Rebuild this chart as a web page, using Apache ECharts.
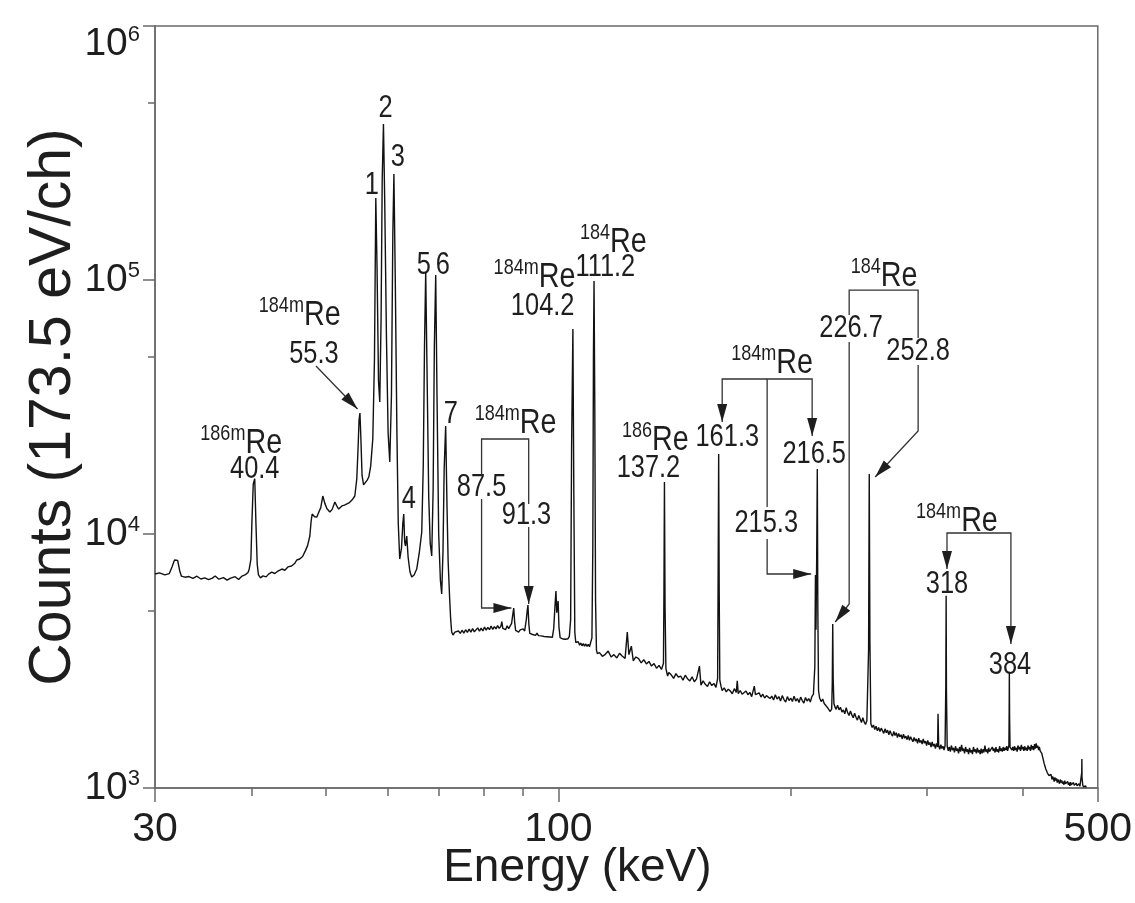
<!DOCTYPE html>
<html>
<head>
<meta charset="utf-8">
<script src="https://cdn.jsdelivr.net/npm/echarts@6/dist/echarts.min.js"></script>
<style>
  html, body { margin: 0; padding: 0; background: #fff; }
  #spectrum { width: 1135px; height: 903px; }
</style>
</head>
<body>
<div id="spectrum"></div>
<script>
// ---- spectrum as [energy keV, counts] ----
// below 73 keV: continuum, 40.4 / 55.3 lines and the x-ray group 1..7
var lowPart = [
  [30.0, 6960], [30.4, 7030], [30.9, 6900], [31.3, 6980], [31.56, 7420], [31.8, 7900], [32.1, 7870],
  [32.3, 7150], [32.45, 6830], [32.8, 6760], [33.2, 6800], [33.6, 6690], [34.0, 6820], [34.4, 6650],
  [34.8, 6720], [35.2, 6610], [35.6, 6700], [35.9, 6830], [36.3, 6640], [36.8, 6730], [37.2, 6580],
  [37.6, 6700], [38.1, 6790], [38.5, 6620], [38.9, 6830], [39.3, 6920], [39.6, 7050], [39.75, 7300],
  [39.94, 7970], [40.06, 11150], [40.22, 15700], [40.4, 16500], [40.54, 11150], [40.7, 7600],
  [40.85, 6900], [41.1, 6720], [41.4, 6840], [41.8, 6780], [42.1, 6950], [42.5, 7080], [42.9, 6990],
  [43.3, 7150], [43.8, 7280], [44.2, 7200], [44.6, 7420], [45.1, 7480], [45.5, 7650], [45.8, 7900],
  [46.2, 7970], [46.6, 8150], [47.0, 8600], [47.3, 9000], [47.62, 9820], [47.8, 11200], [47.95, 11990],
  [48.3, 11700], [48.63, 11670], [48.92, 12210], [49.2, 12700], [49.5, 14110], [49.8, 13200],
  [50.1, 12600], [50.55, 12210], [50.9, 12500], [51.31, 13370], [51.6, 12900], [51.9, 12540],
  [52.4, 12900], [52.8, 13000], [53.18, 13130], [53.6, 13300], [54.0, 13600], [54.46, 14110],
  [54.78, 16460], [55.0, 22000], [55.15, 28000], [55.3, 29950], [55.45, 24000], [55.65, 17000],
  [55.9, 15600], [56.11, 15730], [56.5, 16300], [56.78, 16760], [57.1, 18500], [57.46, 23660],
  [57.75, 48870], [57.98, 210300], [58.2, 110000], [58.45, 40000], [58.67, 33080], [58.9, 70000],
  [59.1, 250000], [59.32, 411400], [59.55, 200000], [59.85, 60000], [60.15, 25000], [60.45, 19210],
  [60.75, 35000], [61.0, 150000], [61.2, 261400], [61.45, 100000], [61.75, 25000], [62.0, 11000],
  [62.27, 7970], [62.6, 8800], [62.85, 11000], [63.02, 11990], [63.2, 9300], [63.35, 8970],
  [63.59, 9820], [63.85, 8100], [64.2, 7100], [64.54, 6770], [65.0, 6900], [65.51, 7280],
  [66.0, 8400], [66.5, 10180], [66.8, 18520], [67.05, 55000], [67.29, 107500], [67.55, 45000],
  [67.9, 14000], [68.2, 9200], [68.51, 8190], [68.8, 15000], [69.05, 55000], [69.33, 104600],
  [69.6, 35000], [69.95, 10000], [70.3, 6600], [70.58, 5805], [70.85, 8500], [71.1, 18000],
  [71.42, 26620], [71.7, 13000], [71.95, 7800], [72.28, 5548], [72.5, 4600], [72.71, 4114]
];

// 73 - 113 keV: flat continuum with 87.5, 91.3, 104.2 and 111.2 lines
var midPart = [
  [73.0, 4000], [73.4, 4110], [73.8, 4040], [74.2, 4150], [74.6, 4060], [75.0, 4180], [75.4, 4070],
  [75.8, 4200], [76.2, 4100], [76.6, 4220], [77.0, 4110], [77.4, 4240], [77.8, 4120], [78.2, 4190],
  [78.6, 4270], [79.0, 4140], [79.4, 4260], [79.8, 4150], [80.2, 4300], [80.6, 4180], [81.0, 4290],
  [81.4, 4200], [81.8, 4340], [82.2, 4210], [82.6, 4320], [83.0, 4230], [83.4, 4360], [83.8, 4250],
  [84.2, 4330], [84.45, 4520], [84.7, 4250], [85.0, 4310], [85.4, 4200], [85.8, 4350], [86.2, 4240],
  [86.6, 4300], [86.95, 4450], [87.2, 4750], [87.5, 5110], [87.75, 4500], [88.0, 4170], [88.4, 4210],
  [88.8, 4110], [89.2, 4190], [89.6, 4120], [90.0, 4230], [90.4, 4150], [90.85, 4600], [91.1, 5000],
  [91.3, 5250], [91.55, 4400], [91.8, 4060], [92.2, 4120], [92.6, 4020], [93.0, 4090], [93.4, 3990],
  [93.8, 4070], [94.2, 3980], [94.6, 4050], [95.0, 3970], [95.4, 4040], [95.8, 3950], [96.2, 4020],
  [96.6, 3940], [97.0, 4000], [97.4, 3930], [97.8, 3990], [98.2, 3920], [98.6, 4250], [99.0, 5300],
  [99.25, 5960], [99.5, 4900], [99.7, 5200], [99.9, 5450], [100.15, 4300], [100.5, 3910],
  [100.9, 3960], [101.3, 3860], [101.7, 3930], [102.1, 3850], [102.5, 3920], [102.9, 3870],
  [103.3, 3950], [103.7, 4600], [104.0, 22000], [104.4, 64150], [104.7, 14000], [105.0, 4100],
  [105.3, 3740], [105.7, 3680], [106.1, 3770], [106.5, 3650], [106.9, 3720], [107.3, 3630],
  [107.7, 3700], [108.1, 3620], [108.5, 3690], [108.9, 3610], [109.3, 3680], [109.7, 3600],
  [110.1, 3660], [110.5, 3900], [110.8, 9000], [111.0, 50000], [111.2, 99100], [111.45, 32000],
  [111.7, 5500], [112.0, 3500], [112.3, 3380], [112.6, 3430]
];

// 113 - 231 keV
var highPart = [
  [113, 3410], [114, 3300], [115, 3360], [116, 3460], [117, 3280], [118, 3350], [119, 3250],
  [120, 3390], [121, 3300], [122, 3240], [122.8, 4110], [123.4, 3350], [124.3, 3620], [125, 3170],
  [126, 3280], [127, 3230], [128, 3110], [129, 3200], [130, 3080], [131, 3150], [132, 3020],
  [133, 3090], [134, 2960], [135, 3040], [136, 2930], [136.8, 3100], [137.0, 6000], [137.2, 16020],
  [137.45, 5200], [137.8, 2950], [138.5, 2760], [139, 2850], [140, 2790], [141, 2700], [142, 2820],
  [143, 2730], [144, 2760], [145, 2660], [146, 2780], [147, 2690], [148, 2640], [149, 2740],
  [150, 2620], [151, 2690], [152.3, 3020], [153, 2540], [154, 2640], [155, 2560], [156, 2510],
  [157, 2620], [158, 2530], [159, 2580], [160, 2490], [160.8, 2700], [161.05, 7000], [161.3, 20650],
  [161.55, 6000], [161.85, 2650], [162.5, 2500], [163, 2420], [164, 2480], [165, 2390], [166, 2450],
  [167, 2410], [168, 2350], [169, 2460], [170, 2380], [170.5, 2640], [171, 2350], [172, 2420],
  [173, 2340], [174, 2300], [175, 2410], [176, 2330], [177, 2380], [178, 2290], [179.4, 2520],
  [180, 2330], [181, 2290], [182, 2370], [183, 2280], [184, 2340], [185, 2260], [186, 2310],
  [187, 2350], [188, 2250], [189, 2300], [190, 2220], [191, 2330], [192, 2240], [193, 2290],
  [194, 2200], [195, 2310], [196, 2230], [197, 2180], [198, 2290], [199, 2210], [200, 2260],
  [201, 2190], [202, 2300], [203, 2200], [204, 2250], [205, 2170], [206, 2280], [207, 2210],
  [208, 2160], [209, 2270], [210, 2200], [211, 2250], [212, 2180], [213, 2290], [214, 2340],
  [214.9, 3000], [215.3, 6900], [215.65, 4200], [216.1, 8000], [216.5, 18030], [216.85, 5000],
  [217.3, 2420], [218, 2260], [219, 2190], [220, 2240], [221, 2150], [222, 2120], [223, 2080],
  [224, 2110], [225, 2000], [226, 2050], [226.4, 2600], [226.7, 4420], [227.0, 2700], [227.5, 2150],
  [228, 2100], [229, 2040], [230, 2120], [231, 2030]
];

// 232 - 484 keV
var tailPart = [
  [232, 2080], [233, 1990], [234, 2030], [235, 1960], [236, 2070], [237, 1980], [238, 1930],
  [239, 2010], [240, 1940], [241, 1890], [242, 1970], [243, 1900], [244, 1850], [245, 1930],
  [246, 1870], [247, 1810], [248, 1890], [249, 1820], [250, 1780], [251, 1840], [252.3, 3500],
  [252.8, 17230], [253.3, 3800], [254, 1790], [255, 1730], [256, 1770], [257, 1700], [258, 1750],
  [259, 1680], [260, 1730], [261, 1670], [262, 1720], [263, 1690], [264, 1640], [265, 1710],
  [266, 1650], [267, 1690], [268, 1620], [269, 1680], [270, 1630], [271, 1600], [272, 1670],
  [273, 1610], [274, 1650], [275, 1580], [276, 1640], [277, 1590], [278, 1620], [279, 1560],
  [280, 1630], [281, 1570], [282, 1600], [283, 1550], [284, 1610], [285, 1540], [286, 1590],
  [287, 1570], [288, 1520], [289, 1580], [290, 1530], [291, 1560], [292, 1500], [293, 1570],
  [294, 1510], [295, 1540], [296, 1490], [297, 1560], [298, 1500], [299, 1530], [300, 1470],
  [301, 1540], [302, 1480], [303, 1510], [304, 1450], [305, 1520], [306, 1460], [307, 1490],
  [308, 1430], [309, 1500], [310, 1450], [310.4, 1960], [311, 1470], [312, 1420], [313, 1480],
  [314, 1430], [315, 1460], [316, 1410], [317, 1470], [317.7, 2600], [318, 5710], [318.3, 2400],
  [319, 1460], [320, 1400], [321, 1450], [322, 1390], [323, 1470], [324, 1410], [325, 1440],
  [326, 1380], [327, 1460], [328, 1400], [329, 1430], [330, 1370], [331, 1450], [332, 1390],
  [333, 1480], [334, 1400], [335, 1430], [336, 1370], [337, 1450], [338, 1390], [339, 1420],
  [340, 1360], [341, 1440], [342, 1380], [343, 1410], [344, 1360], [345, 1450], [346, 1390],
  [347, 1420], [348, 1370], [349, 1440], [350, 1380], [351, 1410], [352, 1360], [353, 1430],
  [354, 1370], [355, 1420], [356, 1380], [357, 1470], [358, 1390], [359, 1420], [360, 1370],
  [361, 1440], [362, 1390], [363, 1410], [364, 1370], [365, 1450], [366, 1400], [367, 1430],
  [368, 1380], [369, 1450], [370, 1390], [371, 1420], [372, 1380], [373, 1460], [374, 1400],
  [375, 1430], [376, 1390], [377, 1450], [378, 1400], [379, 1440], [380, 1410], [381, 1460],
  [382, 1400], [383.5, 1470], [383.8, 2000], [384, 2870], [384.3, 1900], [384.8, 1450], [386, 1470],
  [387, 1410], [388, 1450], [389, 1400], [390, 1460], [391, 1410], [392, 1440], [393, 1390],
  [394, 1470], [395, 1420], [396, 1450], [397, 1400], [398, 1480], [399, 1420], [400, 1450],
  [401, 1400], [402, 1460], [403, 1410], [404, 1440], [405, 1400], [406, 1470], [407, 1420],
  [408, 1450], [409, 1400], [410, 1480], [411, 1420], [412, 1460], [413, 1410], [414, 1490],
  [415, 1430], [416, 1500], [417, 1440], [418, 1470], [419, 1410], [420, 1450], [421, 1400],
  [422, 1420], [423, 1370], [424, 1330], [425, 1290], [426, 1250], [427, 1220], [428, 1190],
  [429, 1200], [430, 1150], [431, 1160], [432, 1120], [433, 1140], [434, 1100], [435, 1130],
  [436, 1080], [437, 1110], [438, 1090], [439, 1060], [440, 1100], [441, 1070], [442, 1090],
  [443, 1050], [444, 1080], [445, 1060], [446, 1040], [447, 1080], [448, 1050], [449, 1070],
  [450, 1040], [451, 1060], [452, 1030], [453, 1070], [454, 1040], [455, 1050], [456, 1025],
  [457, 1060], [458, 1030], [459, 1050], [460, 1020], [461, 1055], [462, 1030], [463, 1040],
  [464, 1015], [465, 1050], [466, 1025], [467, 1040], [468, 1015], [469, 1045], [470, 1020],
  [471, 1035], [472, 1010], [473, 1040], [474, 1015], [475, 1030], [476, 1010], [476.6, 1150],
  [476.8, 1300], [477.0, 1100], [478, 1030], [479, 1010], [480, 1025], [481, 1005], [482, 1020],
  [483, 1005], [484, 1015]
];

// ---- axes ----
var xMajorTicks = [30, 100, 500];
var xMinorTicks = [40, 50, 60, 70, 80, 90, 200, 300, 400];
var yMajorTicks = [1e3, 1e4, 1e5, 1e6];
var yMinorTicks = [5e3, 5e4, 5e5];

// ---- annotations: [text, energy, counts] at the centre of each label ----
var peakNumbers = [
  ['1', 57.3, 236600], ['2', 59.7, 475500], ['3', 61.9, 305000], ['4', 64.0, 13730],
  ['5', 66.9, 114600], ['6', 70.8, 114600], ['7', 72.5, 29680]
];
var isotopeLabels = [
  ['186m', 'Re', 38.8, 23020],
  ['184m', 'Re', 46.2, 73460],
  ['184m', 'Re', 88.0, 27600],
  ['184m', 'Re', 93.1, 103700],
  ['184', 'Re', 117.8, 142400],
  ['186', 'Re', 133.5, 23660],
  ['184m', 'Re', 189.2, 47550],
  ['184', 'Re', 264.3, 104600],
  ['184m', 'Re', 328.4, 11350]
];
var energyLabels = [
  ['40.4', 40.4, 18030], ['55.3', 48.2, 51120], ['87.5', 79.5, 15310], ['91.3', 90.9, 11880],
  ['104.2', 95.4, 79000], ['111.2', 115.0, 112500], ['137.2', 130.8, 18190],
  ['161.3', 165.5, 24100], ['215.3', 185.9, 11050], ['216.5', 214.5, 20650],
  ['226.7', 239.5, 64720], ['252.8', 292.5, 52530], ['318', 318.8, 6356], ['384', 384.7, 3050]
];
// leader lines in [energy, counts]; head tells which ends get an arrow
var leaders = [
  { pts: [[48.5, 45860], [54.9, 31060]], head: 'end' },
  { pts: [[79.5, 17070], [79.5, 23660], [91.5, 23660], [91.5, 13130]], head: '' },
  { pts: [[79.5, 13730], [79.5, 5113], [86.9, 5113]], head: 'end' },
  { pts: [[91.5, 10650], [91.5, 5302]], head: 'end' },
  { pts: [[163.0, 27600], [163.0, 40760], [213.2, 40760], [213.2, 24320]], head: 'both' },
  { pts: [[186.4, 40760], [186.4, 12770]], head: '' },
  { pts: [[186.4, 9557], [186.4, 6960], [212.6, 6960]], head: 'end' },
  { pts: [[238.1, 72800], [238.1, 91300], [292.5, 91300], [292.5, 59100]], head: '' },
  { pts: [[238.1, 57000], [238.1, 5302], [228.4, 4503]], head: 'end' },
  { pts: [[292.5, 46280], [292.5, 25440], [257.3, 16760]], head: 'end' },
  { pts: [[318.8, 7280], [318.8, 10090], [385.8, 10090], [385.8, 3689]], head: 'both' }
];

var spectrum = lowPart.concat(midPart, highPart, tailPart);

var axisGrey = '#6a6a6a';
var ink = '#1e1e1e';
var axisFont = 'Liberation Sans, Arial, sans-serif';
var noteFont = 'Liberation Sans, Arial, sans-serif';
var narrow = 0.82;   // the figure's lettering is condensed

var chart = echarts.init(document.getElementById('spectrum'));

var option = {
  animation: false,
  backgroundColor: '#fff',
  grid: {
    left: 155, right: 36, top: 26, bottom: 115,
    show: true, borderColor: axisGrey, borderWidth: 1.5, backgroundColor: 'transparent'
  },
  xAxis: [
    {
      type: 'log', logBase: 10, min: 30, max: 500, position: 'bottom',
      axisLine: { show: true, lineStyle: { color: axisGrey, width: 1.5 } },
      axisTick: { show: true, customValues: xMajorTicks, length: 14, lineStyle: { color: axisGrey, width: 1.5 } },
      axisLabel: {
        customValues: xMajorTicks, fontSize: 41, fontFamily: axisFont, color: ink, margin: 21,
        formatter: function (v) { return String(Math.round(v)); }
      },
      splitLine: { show: false },
      name: 'Energy (keV)', nameLocation: 'middle', nameGap: 57, nameMoveOverlap: false,
      nameTextStyle: { fontSize: 46, fontFamily: axisFont, color: ink, padding: [0, 98, 0, 0] }
    },
    {
      type: 'log', logBase: 10, min: 30, max: 500, position: 'bottom',
      axisLine: { show: false },
      axisTick: { show: true, customValues: xMinorTicks, length: 8, lineStyle: { color: axisGrey, width: 1.5 } },
      axisLabel: { show: false },
      splitLine: { show: false }
    }
  ],
  yAxis: [
    {
      type: 'log', logBase: 10, min: 1e3, max: 1e6, position: 'left',
      axisLine: { show: true, lineStyle: { color: axisGrey, width: 1.5 } },
      axisTick: { show: true, customValues: yMajorTicks, length: 12, lineStyle: { color: axisGrey, width: 1.5 } },
      axisLabel: {
        customValues: yMajorTicks, margin: 15, color: ink,
        formatter: function (v) {
          var e = Math.round(Math.log10(v));
          // the top label sits a little below its tick in the original
          return e === 6 ? '{bt|10}{s|6}' : '{b|10}{s|' + e + '}';
        },
        rich: {
          b: { fontSize: 39, fontFamily: axisFont, color: ink, verticalAlign: 'bottom' },
          bt: { fontSize: 39, fontFamily: axisFont, color: ink, verticalAlign: 'bottom', padding: [36, 0, 0, 0] },
          s: { fontSize: 22, fontFamily: axisFont, color: ink, verticalAlign: 'bottom', padding: [0, 0, 18, 0] }
        }
      },
      splitLine: { show: false },
      name: 'Counts (173.5 eV/ch)', nameLocation: 'middle', nameGap: 72, nameMoveOverlap: false,
      nameTextStyle: { fontSize: 59, fontFamily: axisFont, color: ink }
    },
    {
      type: 'log', logBase: 10, min: 1e3, max: 1e6, position: 'left',
      axisLine: { show: false },
      axisTick: { show: true, customValues: yMinorTicks, length: 7, lineStyle: { color: axisGrey, width: 1.5 } },
      axisLabel: { show: false },
      splitLine: { show: false }
    }
  ],
  series: [
    {
      type: 'line', xAxisIndex: 0, yAxisIndex: 0, data: spectrum,
      showSymbol: false, symbol: 'none', silent: true, clip: true,
      lineStyle: { color: '#111', width: 1.4 }
    }
  ]
};
chart.setOption(option);

// ---- annotations, placed through the axes ----
function toPx(p) {
  return chart.convertToPixel({ xAxisIndex: 0, yAxisIndex: 0 }, p);
}
function textEl(str, p, size, rich) {
  var st = {
    text: str, fontSize: size, fontFamily: noteFont, fill: ink,
    align: 'center', verticalAlign: 'middle', textAlign: 'center', textVerticalAlign: 'middle'
  };
  if (rich) st.rich = rich;
  return { type: 'text', x: p[0], y: p[1], scaleX: narrow, silent: true, style: st };
}
function arrowHead(tip, from) {
  var dx = tip[0] - from[0], dy = tip[1] - from[1];
  var len = Math.sqrt(dx * dx + dy * dy) || 1;
  var ux = dx / len, uy = dy / len;
  var L = 18, W = 5;
  var bx = tip[0] - ux * L, by = tip[1] - uy * L;
  return {
    type: 'polygon', silent: true,
    shape: { points: [tip, [bx - uy * W, by + ux * W], [bx + uy * W, by - ux * W]] },
    style: { fill: '#1e1e1e' }
  };
}

var els = [];
var isoRich = {
  m: { fontSize: 22, fontFamily: noteFont, fill: ink, color: ink, verticalAlign: 'bottom', padding: [0, 0, 16, 0] },
  e: { fontSize: 35, fontFamily: noteFont, fill: ink, color: ink, verticalAlign: 'bottom' }
};
isotopeLabels.forEach(function (d) {
  els.push(textEl('{m|' + d[0] + '}{e|' + d[1] + '}', toPx([d[2], d[3]]), 35, isoRich));
});
energyLabels.forEach(function (d) {
  els.push(textEl(d[0], toPx([d[1], d[2]]), 31));
});
peakNumbers.forEach(function (d) {
  els.push(textEl(d[0], toPx([d[1], d[2]]), 31));
});
leaders.forEach(function (l) {
  var pts = l.pts.map(toPx);
  els.push({
    type: 'polyline', silent: true, shape: { points: pts },
    style: { stroke: '#333', lineWidth: 1.3, fill: null }
  });
  if (l.head === 'end' || l.head === 'both') {
    els.push(arrowHead(pts[pts.length - 1], pts[pts.length - 2]));
  }
  if (l.head === 'both') {
    els.push(arrowHead(pts[0], pts[1]));
  }
});
chart.setOption({ graphic: { elements: els } });
</script>
</body>
</html>
